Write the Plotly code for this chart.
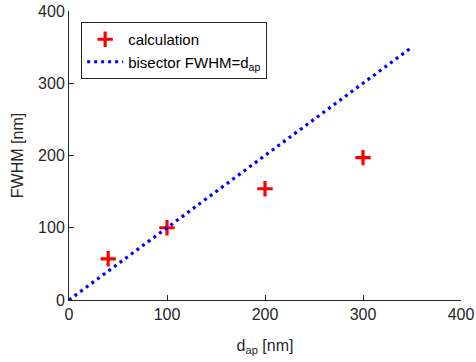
import plotly.graph_objects as go

# data
d_ap = [40, 100, 200, 300]
fwhm = [57, 100, 154, 197]
bisector_x = [0, 350]
bisector_y = [0, 350]
tick_vals = [0, 100, 200, 300, 400]

font_family = "Arial, Liberation Sans, Helvetica, sans-serif"
axis_color = "#262626"

fig = go.Figure()
fig.add_trace(go.Scatter(
    x=d_ap, y=fwhm, mode="markers", name="calculation",
    marker=dict(symbol="cross-thin", size=11, color="red",
                line=dict(color="red", width=3.2)),
))
fig.add_trace(go.Scatter(
    x=bisector_x, y=bisector_y, mode="lines",
    name="bisector FWHM=d<sub>ap</sub>",
    line=dict(color="#0000ff", width=3.2, dash="3px,4px"),
))

fig.update_layout(
    width=476, height=362,
    margin=dict(l=69, r=15, t=11, b=62, autoexpand=False),
    paper_bgcolor="white", plot_bgcolor="white",
    font=dict(family=font_family, color=axis_color, size=16),
    showlegend=True,
    legend=dict(
        x=0.031, y=0.962, xanchor="left", yanchor="top",
        bgcolor="white", bordercolor=axis_color, borderwidth=1,
        font=dict(size=15, color="#000000", family=font_family),
        tracegroupgap=0, itemwidth=36,
    ),
)
fig.update_xaxes(
    range=[0, 400], tickvals=tick_vals, showgrid=False, zeroline=False,
    showline=True, linecolor=axis_color, linewidth=1,
    ticks="inside", ticklen=5, tickcolor=axis_color, automargin=False,
    tickfont=dict(size=16, color=axis_color),
    title=dict(text="d<sub>ap</sub> [nm]", font=dict(size=16, color=axis_color), standoff=17),
)
fig.update_yaxes(
    range=[0, 400], tickvals=tick_vals, showgrid=False, zeroline=False,
    showline=True, linecolor=axis_color, linewidth=1,
    ticks="inside", ticklen=5, tickcolor=axis_color, automargin=False,
    tickfont=dict(size=16, color=axis_color),
    title=dict(text="FWHM [nm]", font=dict(size=16, color=axis_color), standoff=10),
)

fig.write_html("out.html", config={"displayModeBar": False},
               post_script="document.body.style.margin='0';")
